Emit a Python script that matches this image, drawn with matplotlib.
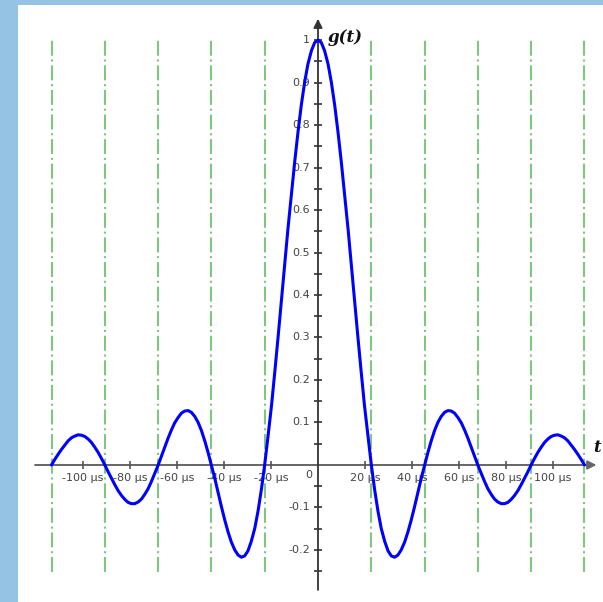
import matplotlib
matplotlib.use("Agg")
import matplotlib.pyplot as plt

# Curve samples (t in microseconds, g(t) amplitude)
t_left = [-113.4, -112.0, -110.6, -109.1, -107.7, -106.3, -104.9, -103.5, -102.1, -100.6,
          -99.2, -97.8, -96.4, -95.0, -93.6, -92.1, -90.7, -89.3, -87.9, -86.5,
          -85.1, -83.6, -82.2, -80.8, -79.4, -78.0, -76.5, -75.1, -73.7, -72.3,
          -70.9, -69.5, -68.0, -66.6, -65.2, -63.8, -62.4, -61.0, -59.5, -58.1,
          -56.7, -55.3, -53.9, -52.4, -51.0, -49.6, -48.2, -46.8, -45.4, -43.9,
          -42.5, -41.1, -39.7, -38.3, -36.9, -35.4, -34.0, -32.6, -31.2, -29.8,
          -28.4, -26.9, -25.5, -24.1, -22.7, -21.3, -19.8, -18.4, -17.0, -15.6,
          -14.2, -12.8, -11.3, -9.9, -8.5, -7.1, -5.7, -4.3, -2.8, -1.4]
g_left = [0.000, 0.013, 0.025, 0.037, 0.047, 0.057, 0.064, 0.068, 0.071, 0.070,
          0.067, 0.061, 0.053, 0.042, 0.030, 0.015, 0.000, -0.016, -0.031, -0.046,
          -0.060, -0.072, -0.081, -0.088, -0.091, -0.091, -0.087, -0.080, -0.069, -0.056,
          -0.039, -0.020, 0.000, 0.021, 0.042, 0.063, 0.082, 0.099, 0.112, 0.122,
          0.127, 0.128, 0.124, 0.114, 0.100, 0.081, 0.057, 0.030, 0.000, -0.032,
          -0.065, -0.098, -0.129, -0.157, -0.181, -0.200, -0.212, -0.217, -0.214, -0.202,
          -0.180, -0.149, -0.108, -0.058, 0.000, 0.066, 0.139, 0.218, 0.300, 0.385,
          0.471, 0.555, 0.637, 0.714, 0.784, 0.847, 0.900, 0.943, 0.975, 0.994]
t_right = [0.0, 1.4, 2.8, 4.3, 5.7, 7.1, 8.5, 9.9, 11.3, 12.8,
           14.2, 15.6, 17.0, 18.4, 19.8, 21.3, 22.7, 24.1, 25.5, 26.9,
           28.4, 29.8, 31.2, 32.6, 34.0, 35.4, 36.9, 38.3, 39.7, 41.1,
           42.5, 43.9, 45.4, 46.8, 48.2, 49.6, 51.0, 52.4, 53.9, 55.3,
           56.7, 58.1, 59.5, 61.0, 62.4, 63.8, 65.2, 66.6, 68.0, 69.5,
           70.9, 72.3, 73.7, 75.1, 76.5, 78.0, 79.4, 80.8, 82.2, 83.6,
           85.1, 86.5, 87.9, 89.3, 90.7, 92.1, 93.6, 95.0, 96.4, 97.8,
           99.2, 100.6, 102.1, 103.5, 104.9, 106.3, 107.7, 109.1, 110.6, 112.0, 113.4]
g_right = [1.000, 0.994, 0.975, 0.943, 0.900, 0.847, 0.784, 0.714, 0.637, 0.555,
           0.471, 0.385, 0.300, 0.218, 0.139, 0.066, 0.000, -0.058, -0.108, -0.149,
           -0.180, -0.202, -0.214, -0.217, -0.212, -0.200, -0.181, -0.157, -0.129, -0.098,
           -0.065, -0.032, 0.000, 0.030, 0.057, 0.081, 0.100, 0.114, 0.124, 0.128,
           0.127, 0.122, 0.112, 0.099, 0.082, 0.063, 0.042, 0.021, 0.000, -0.020,
           -0.039, -0.056, -0.069, -0.080, -0.087, -0.091, -0.091, -0.088, -0.081, -0.072,
           -0.060, -0.046, -0.031, -0.016, 0.000, 0.015, 0.030, 0.042, 0.053, 0.061,
           0.067, 0.070, 0.071, 0.068, 0.064, 0.057, 0.047, 0.037, 0.025, 0.013, 0.000]

# Zero crossings (green guide lines)
zero_t = [-113.4, -90.7, -68.0, -45.4, -22.7, 22.7, 45.4, 68.0, 90.7, 113.4]

x_ticks = [-100, -80, -60, -40, -20, 20, 40, 60, 80, 100]
x_labels = ["-100 µs", "-80 µs", "-60 µs", "-40 µs", "-20 µs",
            "20 µs", "40 µs", "60 µs", "80 µs", "100 µs"]
y_ticks = [-0.2, -0.1, 0.1, 0.2, 0.3, 0.4, 0.5, 0.6, 0.7, 0.8, 0.9, 1.0]
y_labels = ["-0.2", "-0.1", "0.1", "0.2", "0.3", "0.4", "0.5", "0.6", "0.7", "0.8", "0.9", "1"]
y_minor = [-0.25, -0.15, -0.05, 0.05, 0.15, 0.25, 0.35, 0.45, 0.55, 0.65, 0.75, 0.85, 0.95]

fig = plt.figure(figsize=(6.03, 6.02), dpi=100, facecolor="#94c3e4")
ax = fig.add_axes([18 / 603, 0, 585 / 603, 597 / 602])
ax.set_facecolor("white")
ax.set_xlim(-127.66, 121.28)
ax.set_ylim(-0.3224, 1.0824)
for s in ax.spines.values():
    s.set_visible(False)
ax.set_xticks([])
ax.set_yticks([])

# green dash-dot guides
for zt in zero_t:
    ax.plot([zt, zt], [-0.252, 1.0], color="#80c680", lw=1.5,
            linestyle=(0, (7.2, 1.8, 1.0, 1.8)), zorder=1)

# axes with arrows
ax.annotate("", xy=(118.5, 0), xytext=(-120.4, 0),
            arrowprops=dict(arrowstyle="-|>", color="#666666", lw=1.4,
                            mutation_scale=13, shrinkA=0, shrinkB=0), zorder=2)
ax.annotate("", xy=(0, 1.05), xytext=(0, -0.294),
            arrowprops=dict(arrowstyle="-|>", color="#333333", lw=1.3,
                            mutation_scale=13, shrinkA=0, shrinkB=0), zorder=2)

# tick marks
ax.plot(x_ticks, [0] * len(x_ticks), linestyle="none", marker="|", markersize=6,
        color="#555555", markeredgewidth=1.2, zorder=2)
ax.plot([0] * len(y_ticks), y_ticks, linestyle="none", marker="_", markersize=6,
        color="#333333", markeredgewidth=1.2, zorder=2)
ax.plot([0] * len(y_minor), y_minor, linestyle="none", marker="_", markersize=6,
        color="#333333", markeredgewidth=1.2, zorder=2)

# tick labels
for xt, lab in zip(x_ticks, x_labels):
    ax.text(xt, -0.03, lab, ha="center", va="center", fontsize=8, color="#444444")
for yt, lab in zip(y_ticks, y_labels):
    ax.text(-3.4, yt, lab, ha="right", va="center", fontsize=8, color="#444444")
ax.text(-2.6, -0.024, "0", ha="right", va="center", fontsize=8, color="#444444")

# axis names
ax.text(4.3, 1.005, "g(t)", ha="left", va="center", fontsize=12,
        family="DejaVu Serif", style="italic", fontweight="bold", color="#111111")
ax.text(117.3, 0.042, "t", ha="left", va="center", fontsize=12,
        family="DejaVu Serif", style="italic", fontweight="bold", color="#111111")

# curve
ax.plot(t_left + t_right, g_left + g_right, color="#0000ff", lw=2.2, zorder=3,
        solid_joinstyle="round", solid_capstyle="round")

fig.savefig("out.png", dpi=100, facecolor=fig.get_facecolor())
